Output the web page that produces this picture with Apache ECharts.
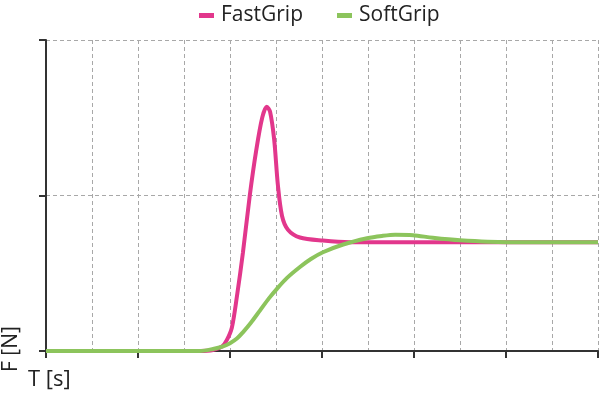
<!DOCTYPE html>
<html>
<head>
<meta charset="utf-8">
<script src="https://cdn.jsdelivr.net/npm/echarts@6/dist/echarts.min.js"></script>
<style>html,body{margin:0;padding:0;background:#fff}#c{width:600px;height:399px}</style>
</head>
<body>
<div id="c"></div>
<script>
const seriesNames = ['FastGrip', 'SoftGrip'];
const fastGrip = [[0,0],[3.35,0],[3.63,0.006],[3.83,0.03],[3.93,0.07],[4.04,0.15],[4.15,0.35],[4.28,0.63],[4.43,1.0],[4.57,1.29],[4.70,1.50],[4.80,1.57],[4.87,1.54],[4.96,1.36],[5.04,1.07],[5.13,0.87],[5.26,0.78],[5.52,0.73],[6.02,0.71],[6.61,0.70],[12,0.70]];
const softGrip = [[0,0],[3.35,0],[3.63,0.013],[3.85,0.03],[4.0,0.05],[4.15,0.08],[4.28,0.12],[4.45,0.18],[4.65,0.26],[4.85,0.34],[5.02,0.40],[5.24,0.47],[5.52,0.54],[5.75,0.59],[6.02,0.635],[6.46,0.685],[6.98,0.725],[7.3,0.74],[7.59,0.748],[7.98,0.745],[8.41,0.728],[9.0,0.712],[10.02,0.70],[12,0.70]];
const xLabel = 'T [s]';
const yLabel = 'F [N]';
const colors = ['#e2378c', '#8cc45c'];
const font = 'Open Sans';

const chart = echarts.init(document.getElementById('c'), null, {renderer: 'canvas'});
const dashed = {show: true, lineStyle: {color: '#a8a8a8', type: [4, 3], width: 1}};
chart.setOption({
  animation: false,
  color: colors,
  grid: {left: 46, right: 2, top: 40, bottom: 48, containLabel: false},
  legend: {
    top: 0, left: 194, itemGap: 34, itemWidth: 15, itemHeight: 5,
    icon: 'rect',
    textStyle: {fontFamily: font, fontSize: 21, color: '#222', padding: [0, 0, 0, 2]},
    data: seriesNames
  },
  xAxis: [{
    type: 'value', min: 0, max: 12, interval: 2,
    axisLine: {show: true, onZero: false, lineStyle: {color: '#333', width: 2}},
    axisTick: {show: true, length: 7, lineStyle: {color: '#333', width: 2}},
    axisLabel: {show: false}, splitLine: {show: false}
  }, {
    type: 'value', min: 0, max: 12, interval: 1, position: 'bottom',
    axisLine: {show: false}, axisTick: {show: false}, axisLabel: {show: false},
    splitLine: dashed
  }],
  yAxis: {
    type: 'value', min: 0, max: 2, interval: 1,
    axisLine: {show: true, lineStyle: {color: '#333', width: 2}},
    axisTick: {show: true, length: 7, lineStyle: {color: '#333', width: 2}},
    axisLabel: {show: false},
    splitLine: dashed
  },
  graphic: [
    {type: 'text', x: 1, y: 372, rotation: Math.PI / 2, style: {text: yLabel, font: '21px "' + font + '"', fill: '#222', textVerticalAlign: 'top'}},
    {type: 'text', x: 28, y: 369, style: {text: xLabel, font: '22px "' + font + '"', fill: '#222'}}
  ],
  series: [
    {name: seriesNames[0], type: 'line', xAxisIndex: 0, data: fastGrip, smooth: 0.3, showSymbol: false, lineStyle: {width: 4}, z: 3},
    {name: seriesNames[1], type: 'line', xAxisIndex: 0, data: softGrip, smooth: 0.3, showSymbol: false, lineStyle: {width: 4}, z: 4}
  ]
});
</script>
</body>
</html>
